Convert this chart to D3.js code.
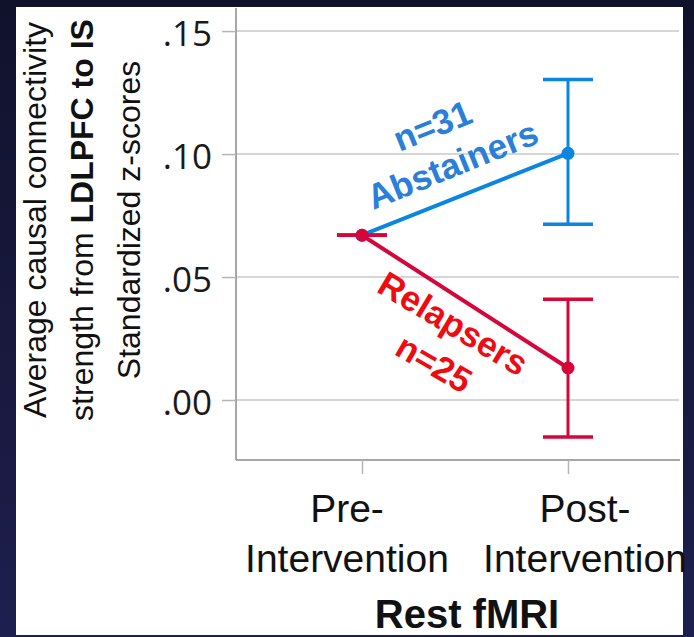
<!DOCTYPE html>
<html>
<head>
<meta charset="utf-8">
<script src="https://cdn.jsdelivr.net/npm/d3@7"></script>
<style>
  body { margin: 0; overflow: hidden; background: #14163a; }
  svg { display: block; }
</style>
</head>
<body>
<div id="chart"></div>
<script>
// values
var conditions = ["Pre-Intervention", "Post-Intervention"];
var tickLines = [["Pre-", "Intervention"], ["Post-", "Intervention"]];
var yTicks = [0, 0.05, 0.10, 0.15];
var yTickLabels = [".00", ".05", ".10", ".15"];

var abstainersMean = [0.067, 0.1003];
var abstainersLow = [0.067, 0.0715];
var abstainersHigh = [0.067, 0.1303];

var relapsersMean = [0.067, 0.013];
var relapsersLow = [0.067, -0.0150];
var relapsersHigh = [0.067, 0.0410];

var W = 694, H = 637;
var plotLeft = 236, plotRight = 679, plotTop = 8, plotBottom = 460;

var blueLine = "#0b86de", blueText = "#2a7fd8";
var redLine = "#d6063b", redText = "#ee0c12";

var svg = d3.select("#chart").append("svg")
    .attr("width", W)
    .attr("height", H);

var bg = svg.append("defs").append("linearGradient")
    .attr("id", "bg").attr("x1", 0).attr("y1", 0).attr("x2", 0).attr("y2", 1);
bg.append("stop").attr("offset", "0%").attr("stop-color", "#10122c");
bg.append("stop").attr("offset", "100%").attr("stop-color", "#1d1f4e");

svg.append("rect").attr("width", W).attr("height", H).attr("fill", "url(#bg)");
svg.append("rect")
    .attr("x", 16).attr("y", 7)
    .attr("width", 683 - 16).attr("height", 635 - 7)
    .attr("fill", "#ffffff");

var x = d3.scalePoint()
    .domain(conditions)
    .range([235, 695])
    .padding(0.6165);

var y = d3.scaleLinear()
    .domain([-0.0244, 0.1594])
    .range([plotBottom, plotTop]);

// gridlines
svg.append("g").selectAll("line")
    .data(yTicks)
    .join("line")
    .attr("x1", plotLeft).attr("x2", plotRight)
    .attr("y1", d => y(d)).attr("y2", d => y(d))
    .attr("stroke", "#c9c9c9").attr("stroke-width", 1.5);

// y axis
var yAxis = svg.append("g")
    .attr("transform", "translate(" + plotLeft + ",0)")
    .call(d3.axisLeft(y).tickValues(yTicks).tickSize(14).tickPadding(10)
        .tickFormat((d, i) => yTickLabels[i]));
yAxis.select(".domain").attr("stroke", "#8a8a8a").attr("stroke-width", 1.5)
    .attr("d", "M0," + plotTop + "V" + plotBottom);
yAxis.selectAll(".tick line").attr("stroke", "#b5b5b5").attr("stroke-width", 1.5);
yAxis.selectAll(".tick text")
    .attr("font-family", "'Open Sans', sans-serif")
    .attr("font-size", 35)
    .attr("fill", "#1a1a1a")
    .attr("dy", "0.42em");

// x axis
var xAxis = svg.append("g")
    .attr("transform", "translate(0," + plotBottom + ")")
    .call(d3.axisBottom(x).tickSize(14).tickFormat(""));
xAxis.select(".domain").attr("stroke", "#8a8a8a").attr("stroke-width", 1.5)
    .attr("d", "M" + plotLeft + ",0H" + (plotRight + 1));
xAxis.selectAll(".tick line").attr("stroke", "#b5b5b5").attr("stroke-width", 1.5);

var labelShift = [-15, 17];
svg.append("g").selectAll("text")
    .data(conditions)
    .join("text")
    .attr("x", (d, i) => x(d) + labelShift[i])
    .attr("y", 522)
    .attr("text-anchor", "middle")
    .attr("font-family", "'Liberation Sans', Arial, sans-serif")
    .attr("font-size", 39)
    .attr("fill", "#111")
    .each(function(d, i) {
        var t = d3.select(this);
        tickLines[i].forEach(function(s, k) {
            t.append("tspan")
                .attr("x", x(d) + labelShift[i])
                .attr("dy", k === 0 ? 0 : 50)
                .text(s);
        });
    });

svg.append("text")
    .attr("x", 467).attr("y", 628)
    .attr("text-anchor", "middle")
    .attr("font-family", "'Liberation Sans', Arial, sans-serif")
    .attr("font-weight", "bold")
    .attr("font-size", 40)
    .attr("fill", "#111")
    .text("Rest fMRI");

// y title, three lines
var yTitle = svg.append("text")
    .attr("transform", "rotate(-90)")
    .attr("text-anchor", "middle")
    .attr("font-family", "'Liberation Sans', Arial, sans-serif")
    .attr("font-size", 32)
    .attr("fill", "#111");
yTitle.append("tspan").attr("x", -220).attr("y", 46).text("Average causal connectivity");
var l2 = yTitle.append("tspan").attr("x", -220).attr("y", 93);
l2.append("tspan").text("strength from ");
l2.append("tspan").attr("font-weight", "bold").text("LDLPFC to IS");
yTitle.append("tspan").attr("x", -220).attr("y", 140).text("Standardized z-scores");

// groups
var groups = [
    {mean: abstainersMean, low: abstainersLow, high: abstainersHigh, color: blueLine},
    {mean: relapsersMean, low: relapsersLow, high: relapsersHigh, color: redLine}
];

var line = d3.line()
    .x((d, i) => x(conditions[i]))
    .y(d => y(d));

groups.forEach(function(g) {
    var gg = svg.append("g");
    conditions.forEach(function(c, i) {
        var cx = x(c);
        gg.append("line")
            .attr("x1", cx).attr("x2", cx)
            .attr("y1", y(g.low[i])).attr("y2", y(g.high[i]))
            .attr("stroke", g.color).attr("stroke-width", 3);
        [g.low[i], g.high[i]].forEach(function(v) {
            gg.append("line")
                .attr("x1", cx - 25).attr("x2", cx + 25)
                .attr("y1", y(v)).attr("y2", y(v))
                .attr("stroke", g.color).attr("stroke-width", 3.5);
        });
    });
    gg.append("path")
        .datum(g.mean)
        .attr("d", line)
        .attr("fill", "none")
        .attr("stroke", g.color)
        .attr("stroke-width", 4);
    gg.selectAll("circle")
        .data(g.mean)
        .join("circle")
        .attr("cx", (d, i) => x(conditions[i]))
        .attr("cy", d => y(d))
        .attr("r", 6.5)
        .attr("fill", g.color);
});

// in-plot labels
function label(txt, cx, cy, angle, color) {
    svg.append("text")
        .attr("transform", "translate(" + cx + "," + cy + ") rotate(" + angle + ")")
        .attr("text-anchor", "middle")
        .attr("font-family", "'Liberation Sans', Arial, sans-serif")
        .attr("font-weight", "bold")
        .attr("font-size", 35)
        .attr("fill", color)
        .text(txt);
}
label("n=31", 437, 137, -22, blueText);
label("Abstainers", 457, 176, -22, blueText);
label("Relapsers", 447, 334, 31, redText);
label("n=25", 428, 374, 30, redText);
</script>
</body>
</html>
